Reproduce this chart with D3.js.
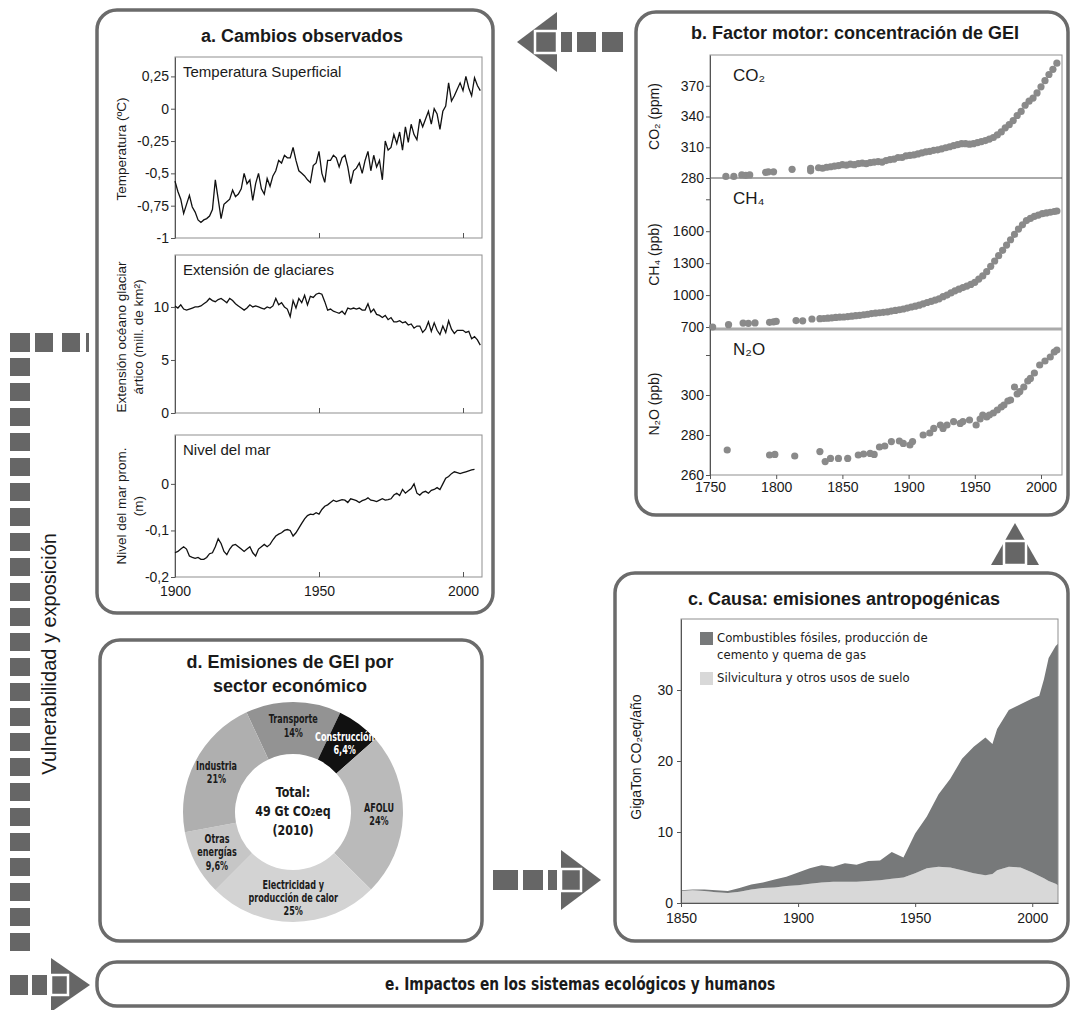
<!DOCTYPE html>
<html>
<head>
<meta charset="utf-8">
<script src="https://d3js.org/d3.v7.min.js"></script>
<style>
body { margin: 0; background: #fff; }
svg { display: block; font-family: 'Liberation Sans', Arial, sans-serif; }
</style>
</head>
<body>
<svg id="chart" width="1073" height="1010"></svg>
<script>
// a. observed changes, one value per year from the start year
const tempStart = 1900
const temperature = [-0.56, -0.64, -0.70, -0.81, -0.74, -0.67, -0.76, -0.80, -0.86, -0.88,
    -0.86, -0.85, -0.83, -0.78, -0.55, -0.70, -0.85, -0.74, -0.72, -0.70,
    -0.63, -0.68, -0.66, -0.62, -0.50, -0.58, -0.55, -0.71, -0.58, -0.50,
    -0.62, -0.66, -0.54, -0.60, -0.52, -0.48, -0.40, -0.42, -0.36, -0.38,
    -0.38, -0.30, -0.40, -0.48, -0.50, -0.52, -0.55, -0.57, -0.44, -0.42,
    -0.33, -0.50, -0.57, -0.40, -0.40, -0.36, -0.38, -0.45, -0.38, -0.36,
    -0.45, -0.58, -0.48, -0.46, -0.42, -0.50, -0.40, -0.33, -0.48, -0.36,
    -0.45, -0.40, -0.55, -0.25, -0.32, -0.30, -0.20, -0.27, -0.18, -0.32,
    -0.14, -0.26, -0.12, -0.20, -0.24, -0.08, -0.14, -0.08, -0.02, -0.12,
    0.00, -0.04, -0.16, -0.02, 0.02, 0.20, 0.06, 0.10, 0.15, 0.20,
    0.14, 0.25, 0.16, 0.10, 0.24, 0.18, 0.14]
const iceStart = 1900
const iceExtent = [10.1, 9.9, 10.2, 9.8, 9.7, 9.8, 9.9, 10.0, 10.0, 10.1,
    10.3, 10.5, 10.8, 10.6, 10.5, 10.7, 10.8, 10.6, 10.4, 10.8,
    10.6, 10.3, 10.1, 9.9, 9.7, 9.9, 10.2, 10.0, 10.1, 10.0,
    9.9, 9.8, 10.0, 9.9, 10.1, 10.8, 10.2, 10.4, 10.0, 9.8,
    9.1, 10.6, 9.9, 10.8, 10.4, 11.1, 10.2, 11.0, 10.9, 11.2,
    11.3, 11.2, 10.5, 9.7, 9.8, 9.6, 9.5, 9.4, 9.6, 9.3,
    9.9, 9.8, 9.9, 9.8, 9.9, 9.7, 9.7, 10.3, 9.5, 9.8,
    9.3, 9.2, 9.0, 9.2, 8.8, 9.0, 8.6, 8.6, 8.7, 8.5,
    8.6, 8.3, 8.4, 8.0, 8.2, 8.2, 7.6, 7.9, 8.6, 7.7,
    8.5, 7.8, 7.4, 8.2, 7.6, 8.7, 7.9, 7.5, 7.8, 7.8,
    7.8, 7.6, 7.7, 7.0, 7.2, 6.9, 6.4]
const seaStart = 1900
const seaLevel = [-0.148, -0.145, -0.140, -0.135, -0.140, -0.155, -0.158, -0.160, -0.158, -0.162,
    -0.162, -0.158, -0.150, -0.148, -0.135, -0.118, -0.128, -0.145, -0.152, -0.140,
    -0.132, -0.130, -0.135, -0.140, -0.145, -0.140, -0.135, -0.148, -0.155, -0.140,
    -0.135, -0.130, -0.135, -0.130, -0.120, -0.112, -0.108, -0.105, -0.100, -0.098,
    -0.100, -0.112, -0.105, -0.095, -0.085, -0.075, -0.068, -0.065, -0.066, -0.062,
    -0.065, -0.055, -0.048, -0.045, -0.040, -0.035, -0.038, -0.036, -0.034, -0.035,
    -0.040, -0.032, -0.034, -0.036, -0.040, -0.036, -0.034, -0.030, -0.035, -0.036,
    -0.038, -0.035, -0.032, -0.035, -0.034, -0.032, -0.024, -0.020, -0.025, -0.012,
    -0.020, -0.015, -0.010, 0.000, -0.020, -0.024, -0.018, -0.016, -0.020, -0.014,
    -0.012, -0.008, -0.012, 0.000, 0.012, 0.016, 0.022, 0.026, 0.024, 0.022,
    0.024, 0.026, 0.028, 0.030, 0.031]
const tempTicks = [0.25, 0, -0.25, -0.5, -0.75, -1]
const iceTicks = [0, 5, 10]
const seaTicks = [0, -0.1, -0.2]
const yearTicksA = [1900, 1950, 2000]

// b. concentrations, [year, value]
const co2Points = [[1762, 281.5], [1768, 281.5], [1774, 283], [1777, 282.5], [1780, 283], [1792, 285.5], [1794, 286], [1798, 286],
    [1812, 288.5], [1826, 287], [1826, 289.5], [1832, 290], [1835, 289.5], [1838, 290.5], [1841, 291], [1844, 291.5],
    [1847, 292], [1850, 293], [1853, 292.5], [1856, 293.5], [1859, 293], [1862, 294], [1865, 294.5], [1868, 294],
    [1871, 295], [1874, 295.5], [1877, 296], [1880, 295.5], [1883, 297], [1886, 298], [1889, 298.5], [1892, 300],
    [1895, 300], [1898, 301.5], [1901, 302], [1904, 302.5], [1907, 303.5], [1910, 304.5], [1913, 305.5], [1916, 306],
    [1919, 307], [1922, 307.5], [1925, 308.5], [1928, 309.5], [1931, 310.5], [1934, 311.5], [1937, 312.5], [1940, 313.5],
    [1943, 313.5], [1946, 313], [1949, 313.5], [1952, 314.5], [1955, 315.5], [1958, 316.5], [1961, 318], [1964, 319.5],
    [1967, 322], [1970, 325], [1973, 329], [1976, 332], [1979, 336], [1982, 341], [1985, 345], [1988, 351],
    [1991, 355], [1994, 358], [1997, 363], [2000, 369], [2003, 375], [2006, 381], [2009, 386], [2012, 392]]
const ch4Points = [[1752, 700], [1764, 722], [1775, 737], [1779, 735], [1784, 738], [1795, 744], [1798, 748], [1800, 752],
    [1815, 760], [1820, 758], [1827, 775], [1833, 778], [1836, 780], [1839, 783], [1842, 786], [1845, 790],
    [1848, 792], [1851, 794], [1854, 798], [1857, 802], [1860, 806], [1863, 810], [1866, 815], [1869, 820],
    [1872, 826], [1875, 830], [1878, 834], [1881, 838], [1884, 842], [1887, 850], [1890, 856], [1893, 862],
    [1896, 869], [1899, 878], [1902, 888], [1905, 896], [1908, 905], [1911, 918], [1914, 930], [1917, 940],
    [1920, 952], [1923, 965], [1926, 985], [1929, 1000], [1932, 1020], [1935, 1040], [1938, 1055], [1941, 1070],
    [1944, 1085], [1947, 1100], [1950, 1120], [1953, 1150], [1956, 1180], [1959, 1220], [1962, 1270], [1965, 1320],
    [1968, 1370], [1971, 1420], [1974, 1470], [1977, 1520], [1980, 1570], [1983, 1620], [1986, 1660], [1989, 1700],
    [1992, 1720], [1995, 1740], [1998, 1752], [2001, 1765], [2004, 1772], [2007, 1778], [2010, 1785], [2012, 1790]]
const n2oPoints = [[1763, 272.5], [1795, 270], [1799, 270.3], [1814, 269.5], [1833, 271.7], [1837, 266.7], [1841, 268.3],
    [1847, 268.3], [1854, 268.3], [1862, 270], [1866, 270.5], [1871, 270.8], [1874, 270.3], [1878, 274], [1882, 274.5],
    [1887, 276.7], [1893, 277], [1896, 275.8], [1901, 275], [1903, 276.7], [1911, 280], [1916, 281], [1919, 283.3],
    [1924, 285], [1926, 283.3], [1929, 285], [1934, 286.7], [1939, 285.8], [1941, 286.7], [1946, 287.5], [1951, 285],
    [1954, 288], [1956, 290], [1959, 289], [1961, 290], [1964, 291], [1967, 292.5], [1970, 294], [1972, 295],
    [1975, 297], [1977, 297.5], [1980, 304], [1982, 300.5], [1984, 301.7], [1987, 304], [1990, 307], [1992, 308.3],
    [1995, 311], [1999, 315], [2003, 317], [2007, 319], [2010, 321.5], [2012, 322.5]]
const co2Ticks = [280, 310, 340, 370]
const ch4Ticks = [700, 1000, 1300, 1600, 1900]
const n2oTicks = [260, 280, 300, 320]
const yearTicksB = [1750, 1800, 1850, 1900, 1950, 2000]

// c. anthropogenic emissions, GtCO2eq per year
const emisYears = [1850, 1855, 1860, 1865, 1870, 1875, 1880, 1885, 1890, 1895, 1900, 1905, 1910, 1915, 1920, 1925, 1930,
    1935, 1940, 1945, 1950, 1955, 1960, 1965, 1970, 1975, 1980, 1983, 1985, 1990, 1995, 2000, 2003, 2005, 2007, 2010, 2011]
const landUse = [1.7, 1.8, 1.7, 1.5, 1.4, 1.6, 1.9, 2.1, 2.2, 2.4, 2.5, 2.7, 2.9, 3.0, 3.0, 3.0, 3.1,
    3.2, 3.4, 3.6, 4.2, 4.9, 5.1, 5.0, 4.6, 4.2, 3.9, 4.1, 4.6, 5.1, 5.0, 4.3, 3.8, 3.5, 3.1, 2.7, 2.5]
const fossil = [0.1, 0.1, 0.2, 0.3, 0.3, 0.5, 0.7, 0.8, 1.1, 1.3, 1.8, 2.2, 2.4, 2.1, 2.6, 2.4, 2.8,
    2.8, 3.8, 2.8, 5.6, 7.3, 10.2, 12.5, 15.7, 17.8, 19.4, 18.3, 19.9, 22.1, 23.0, 24.5, 25.4, 28.0, 31.4, 33.5, 34.0]
const emisTicks = [0, 10, 20, 30]
const yearTicksC = [1850, 1900, 1950, 2000]
const emisLegend = [['Combustibles fósiles, producción de', 'cemento y quema de gas'], ['Silvicultura y otros usos de suelo']]

// d. sectors
const sectorShares = [14, 6.4, 24, 25, 9.6, 21]
const sectorLabels = [['Transporte', '14%'], ['Construcción', '6,4%'], ['AFOLU', '24%'],
    ['Electricidad y', 'producción de calor', '25%'], ['Otras', 'energías', '9,6%'], ['Industria', '21%']]
const totalLabel = ['Total:', '49 Gt CO₂eq', '(2010)']

const sectorColors = ['#939393', '#111111', '#bababa', '#d3d3d3', '#c6c6c6', '#afafaf']
const narrow = "'Liberation Sans Narrow', 'DejaVu Sans Condensed', 'Liberation Sans', sans-serif"
const grey = '#6b6b6b'
const dark = '#666666'
const svg = d3.select('#chart')
const comma = d => String(d).replace('.', ',')

function styleAxis(ax, size) {
    ax.attr('font-size', size).attr('font-family', null)
    ax.select('.domain').attr('stroke', '#555')
    ax.selectAll('.tick line').attr('stroke', '#555')
    ax.selectAll('.tick text').attr('fill', '#1a1a1a')
}

function panel(x, y, w, h, rx) {
    svg.append('rect')
        .attr('x', x).attr('y', y).attr('width', w).attr('height', h)
        .attr('rx', rx).attr('fill', '#fff')
        .attr('stroke', grey).attr('stroke-width', 3.5)
}

function title(x, y, lines) {
    const t = svg.append('text')
        .attr('x', x).attr('y', y)
        .attr('text-anchor', 'middle')
        .attr('font-size', 18).attr('font-weight', 'bold').attr('fill', '#1a1a1a')
    lines.forEach((l, i) => t.append('tspan').attr('x', x).attr('dy', i ? 24 : 0).text(l))
}

function vlabel(x, y, lines, size) {
    const t = svg.append('text')
        .attr('transform', `translate(${x},${y}) rotate(-90)`)
        .attr('text-anchor', 'middle')
        .attr('font-size', size).attr('fill', '#1a1a1a')
    lines.forEach((l, i) => t.append('tspan').attr('x', 0).attr('dy', i ? 17 : 0).text(l))
}

// left flow arrow: a -> e
const flow = svg.append('g').attr('fill', dark)
flow.append('rect').attr('x', 10).attr('y', 333).attr('width', 20).attr('height', 19)
flow.append('rect').attr('x', 35).attr('y', 333).attr('width', 18).attr('height', 19)
flow.append('rect').attr('x', 62).attr('y', 333).attr('width', 18).attr('height', 19)
flow.append('rect').attr('x', 86).attr('y', 333).attr('width', 3).attr('height', 19)
for (let y = 358; y <= 950; y += 25) {
    flow.append('rect').attr('x', 10).attr('y', y).attr('width', 20).attr('height', 18)
}
flow.append('rect').attr('x', 10).attr('y', 975).attr('width', 18).attr('height', 20)
flow.append('rect').attr('x', 32).attr('y', 975).attr('width', 15).attr('height', 20)
flow.append('path').attr('d', 'M51,958 L90,985 L51,1012 Z')
flow.append('rect').attr('x', 51).attr('y', 975).attr('width', 17).attr('height', 20)
    .attr('stroke', '#fff').attr('stroke-width', 2.5)

svg.append('text')
    .attr('transform', 'translate(56,533) rotate(-90)')
    .attr('text-anchor', 'end')
    .attr('font-size', 20).attr('fill', '#1a1a1a')
    .text('Vulnerabilidad y exposición')

// arrow b -> a
const arrBA = svg.append('g').attr('fill', dark)
arrBA.append('path').attr('d', 'M517,42 L557,12 L557,72 Z')
arrBA.append('rect').attr('x', 535).attr('y', 31).attr('width', 22).attr('height', 22)
    .attr('stroke', '#fff').attr('stroke-width', 2.5)
arrBA.append('rect').attr('x', 561).attr('y', 32).attr('width', 11).attr('height', 20)
arrBA.append('rect').attr('x', 577).attr('y', 32).attr('width', 19).attr('height', 20)
arrBA.append('rect').attr('x', 602).attr('y', 32).attr('width', 21).attr('height', 20)

// arrow c -> b
const arrCB = svg.append('g').attr('fill', dark)
arrCB.append('path').attr('d', 'M1015,523 L1039,565 L991,565 Z')
arrCB.append('rect').attr('x', 1004).attr('y', 541).attr('width', 22).attr('height', 24)
    .attr('stroke', '#fff').attr('stroke-width', 2.5)

// arrow d -> c
const arrDC = svg.append('g').attr('fill', dark)
arrDC.append('rect').attr('x', 493).attr('y', 870).attr('width', 25).attr('height', 20)
arrDC.append('rect').attr('x', 523).attr('y', 870).attr('width', 20).attr('height', 20)
arrDC.append('rect').attr('x', 548).attr('y', 870).attr('width', 9).attr('height', 20)
arrDC.append('path').attr('d', 'M561,850 L601,880 L561,910 Z')
arrDC.append('rect').attr('x', 561).attr('y', 869).attr('width', 20).attr('height', 22)
    .attr('stroke', '#fff').attr('stroke-width', 2.5)

// ---------- panel a ----------
panel(97, 10, 396, 603, 20)
title(302, 42, ['a. Cambios observados'])
const xA = d3.scaleLinear().domain([1900, 2000]).range([175, 463])
const frameRightA = 482

function seriesPlot(values, start, domain, ticks, top, bottom, name, showYears) {
    const y = d3.scaleLinear().domain(domain).range([bottom, top])
    svg.append('rect')
        .attr('x', xA.range()[0]).attr('y', top)
        .attr('width', frameRightA - xA.range()[0]).attr('height', bottom - top)
        .attr('fill', 'none').attr('stroke', '#8f8f8f').attr('stroke-width', 1)
    const ay = svg.append('g')
        .attr('transform', `translate(${xA.range()[0]},0)`)
        .call(d3.axisLeft(y).tickValues(ticks).tickFormat(comma).tickSize(4).tickSizeOuter(0).tickPadding(2))
    styleAxis(ay, 14)
    const ax = svg.append('g')
        .attr('transform', `translate(0,${bottom})`)
        .call(d3.axisBottom(xA).tickValues(yearTicksA).tickSize(-5).tickSizeOuter(0).tickPadding(9)
            .tickFormat(showYears ? d3.format('d') : () => ''))
    styleAxis(ax, 14)
    ax.select('.domain').remove()
    const line = d3.line()
        .x((d, i) => xA(start + i))
        .y(d => y(d))
    svg.append('path')
        .datum(values)
        .attr('d', line)
        .attr('fill', 'none').attr('stroke', '#111').attr('stroke-width', 1.3)
    svg.append('text')
        .attr('x', xA.range()[0] + 8).attr('y', top + 20)
        .attr('font-size', 15).attr('fill', '#1a1a1a')
        .text(name)
}

seriesPlot(temperature, tempStart, [-1, 0.4], tempTicks, 57, 238, 'Temperatura Superficial', false)
seriesPlot(iceExtent, iceStart, [0, 14.9], iceTicks, 255, 413, 'Extensión de glaciares', false)
seriesPlot(seaLevel, seaStart, [-0.2, 0.105], seaTicks, 435, 577, 'Nivel del mar', true)
vlabel(126, 149, ['Temperatura (ºC)'], 13.5)
vlabel(126, 337, ['Extensión océano glaciar', 'ártico (mill. de km²)'], 13.5)
vlabel(126, 506, ['Nivel del mar prom.', '(m)'], 13.5)

// ---------- panel b ----------
panel(636, 12, 432, 503, 20)
title(855, 39, ['b. Factor motor: concentración de GEI'])
const xB = d3.scaleLinear().domain([1750, 2000]).range([710, 1041])
const frameB = { right: 1062, top: 55, bottom: 475 }
const yCO2 = d3.scaleLinear().domain([280, 400]).range([178, frameB.top])
const yCH4 = d3.scaleLinear().domain([700, 2100]).range([327, 178])
const yN2O = d3.scaleLinear().domain([260, 333]).range([frameB.bottom, 329])

svg.append('rect')
    .attr('x', xB.range()[0]).attr('y', frameB.top)
    .attr('width', frameB.right - xB.range()[0]).attr('height', frameB.bottom - frameB.top)
    .attr('fill', 'none').attr('stroke', '#8f8f8f')
svg.append('line')
    .attr('x1', xB.range()[0]).attr('x2', frameB.right)
    .attr('y1', yCO2(280)).attr('y2', yCO2(280))
    .attr('stroke', '#555')
svg.append('line')
    .attr('x1', xB.range()[0]).attr('x2', frameB.right)
    .attr('y1', yN2O.range()[1]).attr('y2', yN2O.range()[1])
    .attr('stroke', '#aaa').attr('stroke-width', 3)

const gasPanels = [
    { y: yCO2, ticks: co2Ticks, hidden: [], points: co2Points, name: 'CO₂', unit: 'CO₂ (ppm)' },
    { y: yCH4, ticks: ch4Ticks, hidden: [1900], points: ch4Points, name: 'CH₄', unit: 'CH₄ (ppb)' },
    { y: yN2O, ticks: n2oTicks, hidden: [320], points: n2oPoints, name: 'N₂O', unit: 'N₂O (ppb)' }
]
gasPanels.forEach(p => {
    const ax = svg.append('g')
        .attr('transform', `translate(${xB.range()[0]},0)`)
        .call(d3.axisLeft(p.y).tickValues(p.ticks).tickSize(4).tickSizeOuter(0).tickPadding(2)
            .tickFormat(d => p.hidden.includes(d) ? '' : d))
    styleAxis(ax, 14)
    svg.append('g')
        .selectAll('circle')
        .data(p.points)
        .join('circle')
        .attr('cx', d => xB(d[0]))
        .attr('cy', d => p.y(d[1]))
        .attr('r', 3.6)
        .attr('fill', '#8a8a8a')
    const [lo, hi] = p.y.range()
    svg.append('text')
        .attr('x', 733).attr('y', hi + 26)
        .attr('font-size', 17).attr('fill', '#1a1a1a')
        .text(p.name)
    vlabel(659, (lo + hi) / 2 + (p.name === 'CO₂' ? 0 : 2), [p.unit], 14)
})
const axB = svg.append('g')
    .attr('transform', `translate(0,${frameB.bottom})`)
    .call(d3.axisBottom(xB).tickValues(yearTicksB).tickSize(4).tickSizeOuter(0).tickPadding(3).tickFormat(d3.format('d')))
styleAxis(axB, 14)
axB.select('.domain').remove()

// ---------- panel c ----------
panel(615, 573, 453, 368, 20)
title(844, 605, ['c. Causa: emisiones antropogénicas'])
const xC = d3.scaleLinear().domain([1850, 2011]).range([681, 1058])
const yC = d3.scaleLinear().domain([0, 40]).range([903, 619])
const emisTable = emisYears.map((year, i) => ({ year, land: landUse[i], fossil: fossil[i] }))
const stack = d3.stack().keys(['land', 'fossil'])(emisTable)
const area = d3.area()
    .x(d => xC(d.data.year))
    .y0(d => yC(d[0]))
    .y1(d => yC(d[1]))
const emisColors = ['#d8d8d8', '#77797a']
svg.append('g')
    .selectAll('path')
    .data(stack)
    .join('path')
    .attr('d', area)
    .attr('fill', (d, i) => emisColors[i])
svg.append('rect')
    .attr('x', xC.range()[0]).attr('y', yC.range()[1])
    .attr('width', xC.range()[1] - xC.range()[0]).attr('height', yC.range()[0] - yC.range()[1])
    .attr('fill', 'none').attr('stroke', '#8f8f8f')
const ayC = svg.append('g')
    .attr('transform', `translate(${xC.range()[0]},0)`)
    .call(d3.axisLeft(yC).tickValues(emisTicks).tickSize(4).tickSizeOuter(0).tickPadding(4))
styleAxis(ayC, 14)
const axC = svg.append('g')
    .attr('transform', `translate(0,${yC.range()[0]})`)
    .call(d3.axisBottom(xC).tickValues(yearTicksC).tickSize(4).tickSizeOuter(0).tickPadding(6).tickFormat(d3.format('d')))
styleAxis(axC, 14)
vlabel(641, 757, ['GigaTon CO₂eq/año'], 14)

const legendTop = [632, 672]
emisLegend.forEach((lines, i) => {
    const key = i === 0 ? 1 : 0
    svg.append('rect')
        .attr('x', 700).attr('y', legendTop[i])
        .attr('width', 13).attr('height', 13)
        .attr('fill', emisColors[key])
    const t = svg.append('text')
        .attr('x', 717).attr('y', legendTop[i] + 10)
        .attr('font-family', narrow).attr('font-size', 13).attr('fill', '#1a1a1a')
    lines.forEach((l, j) => t.append('tspan').attr('x', 717).attr('dy', j ? 17 : 0).text(l))
})

// ---------- panel d ----------
panel(100, 640, 382, 301, 20)
title(290, 668, ['d. Emisiones de GEI por', 'sector económico'])
const toRad = Math.PI / 180
const pie = d3.pie().sort(null).startAngle(-25 * toRad).endAngle(335 * toRad)
const arcs = pie(sectorShares)
const arc = d3.arc().innerRadius(58).outerRadius(110)
const labelArc = d3.arc().innerRadius(86).outerRadius(86)
const donut = svg.append('g').attr('transform', 'translate(293,812)')
donut.selectAll('path')
    .data(arcs)
    .join('path')
    .attr('d', arc)
    .attr('fill', (d, i) => sectorColors[i])
donut.selectAll('text.lbl')
    .data(arcs)
    .join('text')
    .attr('class', 'lbl')
    .attr('transform', d => {
        const [cx, cy] = labelArc.centroid(d)
        return `translate(${cx},${cy}) scale(0.78,1)`
    })
    .attr('text-anchor', 'middle')
    .attr('font-family', narrow).attr('font-weight', 'bold').attr('font-size', 11.5)
    .attr('fill', (d, i) => i === 1 ? '#fff' : '#1a1a1a')
    .each(function (d, i) {
        const lines = sectorLabels[i]
        lines.forEach((l, j) => d3.select(this).append('tspan')
            .attr('x', 0)
            .attr('y', 4 + (j - (lines.length - 1) / 2) * 13.5)
            .text(l))
    })
const total = donut.append('text')
    .attr('transform', 'scale(0.85,1)')
    .attr('text-anchor', 'middle')
    .attr('font-family', narrow).attr('font-weight', 'bold').attr('font-size', 14.5)
    .attr('fill', '#1a1a1a')
totalLabel.forEach((l, j) => total.append('tspan').attr('x', 0).attr('y', -15 + j * 19).text(l))

// ---------- panel e ----------
panel(97, 962, 971, 44, 20)
svg.append('text')
    .attr('transform', 'translate(580,990) scale(0.9,1)')
    .attr('text-anchor', 'middle')
    .attr('font-family', narrow).attr('font-weight', 'bold').attr('font-size', 17)
    .attr('fill', '#1a1a1a')
    .text('e. Impactos en los sistemas ecológicos y humanos')
</script>
</body>
</html>
